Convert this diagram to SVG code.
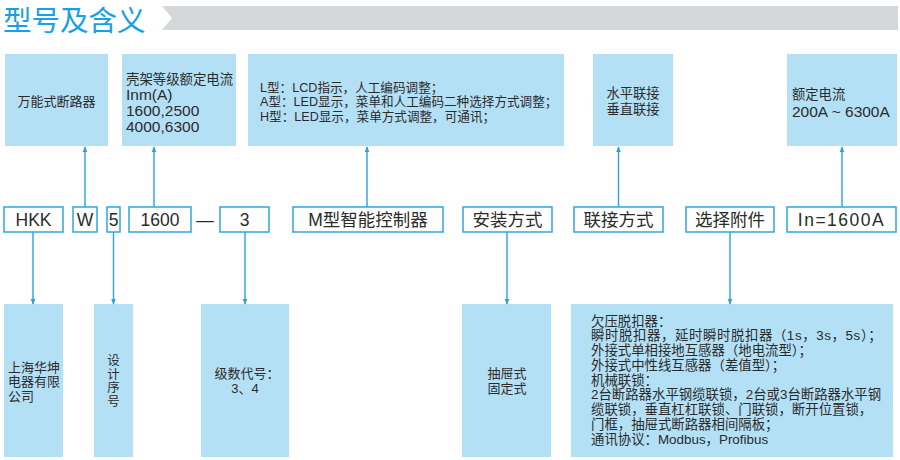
<svg xmlns="http://www.w3.org/2000/svg" width="900" height="460" viewBox="0 0 900 460">
<defs>
<marker id="ah" viewBox="0 0 8 8" refX="7" refY="4" markerWidth="6" markerHeight="6" orient="auto" markerUnits="userSpaceOnUse">
<path d="M0,0.8 L8,4 L0,7.2 Z" fill="#27a3df"/>
</marker>
<style>
.t{font-family:"Liberation Sans","Noto Sans CJK SC",sans-serif;fill:#2b2b2b;}
.cb{fill:#b4e0f6;}
.mb{fill:#fff;stroke:#2ea6df;stroke-width:1.5;}
.m{font-size:17.5px;}
.s{font-size:13px;}
.c{text-anchor:middle;}
.l{font-size:15.5px;}
.cn{stroke:#27a3df;stroke-width:1.4;fill:none;marker-end:url(#ah);}
</style>
</defs>
<rect width="900" height="460" fill="#fff"/>
<g id="header">
<text x="3" y="31" style="font-family:'Noto Sans CJK SC',sans-serif;font-size:28.5px;fill:#17a0e5;">型号及含义</text>
<polygon points="162,6 898,6 898,30 162,30 172,18" fill="#d4d8db"/>
</g>
<g id="top1"><rect class="cb" x="5" y="54" width="103" height="92"/><text class="t s c" x="56.5" y="105.5">万能式断路器</text></g>
<g id="top2"><rect class="cb" x="122" y="54" width="114" height="92"/>
<text class="t" x="126" y="83.5" style="font-size:13.4px">壳架等级额定电流</text>
<text class="t l" x="126" y="99.5">Inm(A)</text>
<text class="t l" x="126" y="115.5">1600,2500</text>
<text class="t l" x="126" y="131.5">4000,6300</text></g>
<g id="top3"><rect class="cb" x="248" y="54" width="316" height="92"/>
<text class="t" x="260" y="91.5" style="font-size:12.6px">L型：LCD指示，人工编码调整；</text>
<text class="t" x="260" y="106" style="font-size:12.6px">A型：LED显示，菜单和人工编码二种选择方式调整；</text>
<text class="t" x="260" y="120.5" style="font-size:12.6px">H型：LED显示，菜单方式调整，可通讯；</text></g>
<g id="top4"><rect class="cb" x="593" y="54" width="80" height="92"/>
<text class="t c" x="633" y="98" style="font-size:13.3px">水平联接</text>
<text class="t c" x="633" y="114" style="font-size:13.3px">垂直联接</text></g>
<g id="top5"><rect class="cb" x="787" y="54" width="110" height="92"/>
<text class="t" x="792" y="99" style="font-size:13.3px">额定电流</text>
<text class="t l" x="792" y="117">200A ~ 6300A</text></g>

<g id="m-hkk"><rect class="mb" x="4" y="207" width="59" height="25"/><text class="t m c" x="33.5" y="226">HKK</text></g>
<g id="m-w"><rect class="mb" x="73" y="207" width="24" height="25"/><text class="t m c" x="85" y="226">W</text></g>
<g id="m-5"><rect class="mb" x="107" y="207" width="13" height="25"/><text class="t m c" x="113.5" y="226">5</text></g>
<g id="m-1600"><rect class="mb" x="129" y="207" width="62" height="25"/><text class="t m c" x="160" y="226">1600</text></g>
<g id="m-dash"><text class="t m c" x="205" y="226">—</text></g>
<g id="m-3"><rect class="mb" x="220" y="207" width="49" height="25"/><text class="t m c" x="244.5" y="226">3</text></g>
<g id="m-ctrl"><rect class="mb" x="293" y="207" width="150" height="25"/><text class="t m c" x="368" y="226">M型智能控制器</text></g>
<g id="m-install"><rect class="mb" x="463" y="207" width="89" height="25"/><text class="t m c" x="507.5" y="226">安装方式</text></g>
<g id="m-conn"><rect class="mb" x="574" y="207" width="89" height="25"/><text class="t m c" x="618.5" y="226">联接方式</text></g>
<g id="m-acc"><rect class="mb" x="686" y="207" width="88" height="25"/><text class="t m c" x="730" y="226">选择附件</text></g>
<g id="m-in"><rect class="mb" x="787" y="207" width="109" height="25"/><text class="t m c" x="841.5" y="226" style="letter-spacing:1.5px">In=1600A</text></g>

<g id="b1"><rect class="cb" x="4" y="304" width="59" height="153"/>
<text class="t s" x="8" y="371.5">上海华坤</text>
<text class="t s" x="8" y="386">电器有限</text>
<text class="t s" x="8" y="400.5">公司</text></g>
<g id="b2"><rect class="cb" x="94" y="304" width="39" height="153"/>
<text class="t c" x="113.5" y="365" style="font-size:12.5px">设</text>
<text class="t c" x="113.5" y="378.5" style="font-size:12.5px">计</text>
<text class="t c" x="113.5" y="392" style="font-size:12.5px">序</text>
<text class="t c" x="113.5" y="405.5" style="font-size:12.5px">号</text></g>
<g id="b3"><rect class="cb" x="201" y="304" width="88" height="153"/>
<text class="t s c" x="247" y="377.5">级数代号：</text>
<text class="t s c" x="245" y="392.5">3、4</text></g>
<g id="b4"><rect class="cb" x="462" y="304" width="89" height="153"/>
<text class="t s c" x="507" y="377.5">抽屉式</text>
<text class="t s c" x="507" y="392.5">固定式</text></g>
<g id="b5"><rect class="cb" x="571" y="304" width="322" height="153"/>
<g class="t" style="font-size:13.4px">
<text x="591" y="325.5">欠压脱扣器：</text>
<text x="591" y="340.2" style="letter-spacing:0.6px">瞬时脱扣器，延时瞬时脱扣器（1s，3s，5s）；</text>
<text x="591" y="355">外接式单相接地互感器（地电流型）；</text>
<text x="591" y="369.7">外接式中性线互感器（差值型）；</text>
<text x="591" y="384.5">机械联锁：</text>
<text x="591" y="399.2">2台断路器水平钢缆联锁，2台或3台断路器水平钢</text>
<text x="591" y="414">缆联锁，垂直杠杠联锁、门联锁，断开位置锁，</text>
<text x="591" y="428.7">门框，抽屉式断路器相间隔板；</text>
<text x="591" y="443.5">通讯协议：Modbus，Profibus</text>
</g></g>

<g id="connectors">
<line class="cn" x1="85" y1="207" x2="85" y2="147"/>
<line class="cn" x1="154" y1="207" x2="154" y2="147"/>
<line class="cn" x1="367" y1="207" x2="367" y2="147"/>
<line class="cn" x1="618.5" y1="207" x2="618.5" y2="147"/>
<line class="cn" x1="842" y1="207" x2="842" y2="147"/>
<line class="cn" x1="33" y1="232" x2="33" y2="304"/>
<line class="cn" x1="113.5" y1="232" x2="113.5" y2="304"/>
<line class="cn" x1="245" y1="232" x2="245" y2="304"/>
<line class="cn" x1="507" y1="232" x2="507" y2="304"/>
<line class="cn" x1="730" y1="232" x2="730" y2="304"/>
</g>
</svg>
